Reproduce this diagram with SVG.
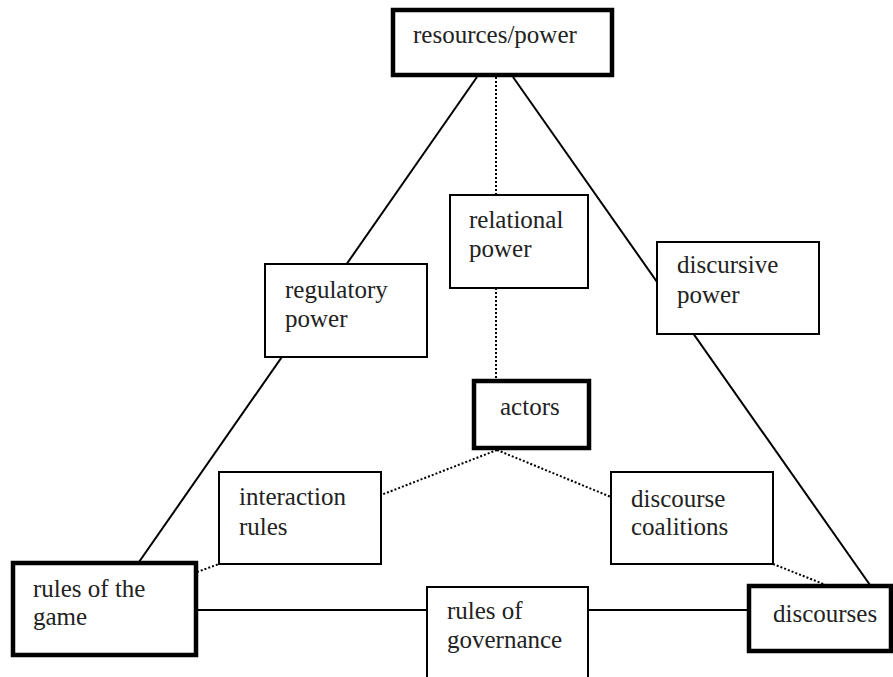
<svg xmlns="http://www.w3.org/2000/svg" width="893" height="677" viewBox="0 0 893 677">
<style>
.bg{fill:#fff}
.box{fill:#fff;stroke:#000;stroke-width:2}
.bold{fill:#fff;stroke:#000;stroke-width:4.5}
.solid{stroke:#000;stroke-width:2;fill:none}
.dot{stroke:#000;stroke-width:2;fill:none;stroke-dasharray:2 2}
text{font-family:"Liberation Serif","Times New Roman",serif;font-size:25px;fill:#222}
</style>
<rect class="bg" x="0" y="0" width="893" height="677"/>
<g id="connectors">
<line class="solid" x1="477" y1="77" x2="139" y2="562"/>
<line class="solid" x1="513" y1="77" x2="870" y2="585"/>
<line class="dot" x1="496" y1="77" x2="496" y2="195"/>
<line class="dot" x1="496" y1="288" x2="496" y2="380"/>
<line class="dot" x1="497" y1="450" x2="381" y2="495"/>
<line class="dot" x1="497" y1="450" x2="611" y2="497"/>
<line class="dot" x1="197" y1="572" x2="219" y2="564"/>
<line class="dot" x1="773" y1="564" x2="826" y2="585"/>
<line class="solid" x1="196" y1="610" x2="427" y2="610"/>
<line class="solid" x1="588" y1="610" x2="749" y2="610"/>
</g>
<g id="resources">
<rect class="bold" x="393" y="10" width="219" height="65"/>
<text x="413" y="43">resources/power</text>
</g>
<g id="regulatory">
<rect class="box" x="265" y="264" width="162" height="93"/>
<text x="285" y="298">regulatory</text>
<text x="285" y="327">power</text>
</g>
<g id="relational">
<rect class="box" x="450" y="195" width="138" height="93"/>
<text x="469" y="228">relational</text>
<text x="469" y="257">power</text>
</g>
<g id="discursive">
<rect class="box" x="657" y="242" width="162" height="92"/>
<text x="677" y="273">discursive</text>
<text x="677" y="303">power</text>
</g>
<g id="actors">
<rect class="bold" x="474" y="381" width="115" height="67"/>
<text x="500" y="415">actors</text>
</g>
<g id="interaction">
<rect class="box" x="219" y="472" width="162" height="92"/>
<text x="239" y="505">interaction</text>
<text x="239" y="535">rules</text>
</g>
<g id="coalitions">
<rect class="box" x="611" y="472" width="162" height="92"/>
<text x="631" y="507">discourse</text>
<text x="631" y="535">coalitions</text>
</g>
<g id="rulesgame">
<rect class="bold" x="13" y="563" width="183" height="92"/>
<text x="33" y="597">rules of the</text>
<text x="33" y="625">game</text>
</g>
<g id="governance">
<rect class="box" x="427" y="587" width="161" height="100"/>
<text x="447" y="619">rules of</text>
<text x="447" y="648">governance</text>
</g>
<g id="discourses">
<rect class="bold" x="749" y="586" width="142" height="65"/>
<text x="773" y="622">discourses</text>
</g>
</svg>
